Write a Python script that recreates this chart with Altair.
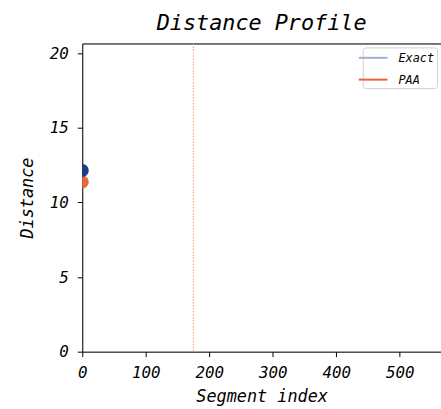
import altair as alt
import pandas as pd

series = ["Exact", "PAA"]
seg_index = [0, 0]
distance = [12.14, 11.38]
point_colors = ["#1f3c88", "#e8683a"]
line_colors = ["#a3b0d0", "#e8603c"]
match_index = [175]

FONT = "DejaVu Sans Mono"

df = pd.DataFrame({"series": series, "x": seg_index, "y": distance})
df_points = df.iloc[::-1].reset_index(drop=True)  # Exact drawn on top
vline = pd.DataFrame({"x": match_index})

xscale = alt.Scale(domain=[0, 565], nice=False, zero=False)
yscale = alt.Scale(domain=[0, 20.66], nice=False)

common = dict(grid=False, tickSize=5, tickColor="black", domainColor="black",
              labelFont=FONT, labelFontStyle="italic", labelFontSize=16, labelColor="black",
              titleFont=FONT, titleFontStyle="italic", titleFontSize=17, titleFontWeight="normal",
              titleColor="black", labelFlush=False)
xaxis = alt.Axis(values=[0, 100, 200, 300, 400, 500], title="Segment index",
                 labelPadding=8, titlePadding=8, **common)
yaxis = alt.Axis(values=[0, 5, 10, 15, 20], title="Distance",
                 labelPadding=9, titlePadding=13, **common)
top_axis = alt.Axis(orient="top", labels=False, ticks=False, title=None, grid=False,
                    domainColor="black")

lines = alt.Chart(df).mark_line(strokeWidth=2).encode(
    x=alt.X("x:Q", scale=xscale, axis=xaxis),
    y=alt.Y("y:Q", scale=yscale, axis=yaxis),
    color=alt.Color("series:N", scale=alt.Scale(domain=series, range=line_colors),
                    legend=alt.Legend(title=None, orient="none", legendX=283, legendY=4,
                                      symbolType="M-2,0L2,0", symbolStrokeWidth=2, symbolSize=210,
                                      labelFont=FONT, labelFontStyle="italic", labelFontSize=12,
                                      labelColor="black", strokeColor="#d0d0d0", fillColor="white",
                                      cornerRadius=3, padding=2, rowPadding=7, labelOffset=17)),
)

points = alt.Chart(df_points).mark_point(filled=True, size=169, opacity=1,
                                         shape="M0,-1A1,1 0 0,1 0,1Z").encode(
    x=alt.X("x:Q", scale=xscale, axis=None),
    y=alt.Y("y:Q", scale=yscale),
    color=alt.Color("series:N", scale=alt.Scale(domain=series, range=point_colors), legend=None),
)

rule = alt.Chart(vline).mark_rule(color="#f29a7a", opacity=0.9, strokeDash=[1.5, 1.5],
                                  strokeWidth=1.2).encode(
    x=alt.X("x:Q", scale=xscale, axis=top_axis)
)

chart = alt.layer(rule, lines, points).resolve_scale(color="independent").resolve_axis(
    x="independent").properties(
    width=362, height=311,
    title=alt.TitleParams("Distance Profile", font=FONT, fontStyle="italic", fontSize=22,
                          fontWeight="normal", color="black", offset=8),
    autosize=alt.AutoSizeParams(type="none"),
    padding={"left": 83, "top": 42, "right": 0, "bottom": 56},
).configure_view(stroke=None).configure(background="white")

chart.save("out.html", embed_options={"renderer": "svg", "actions": False})
